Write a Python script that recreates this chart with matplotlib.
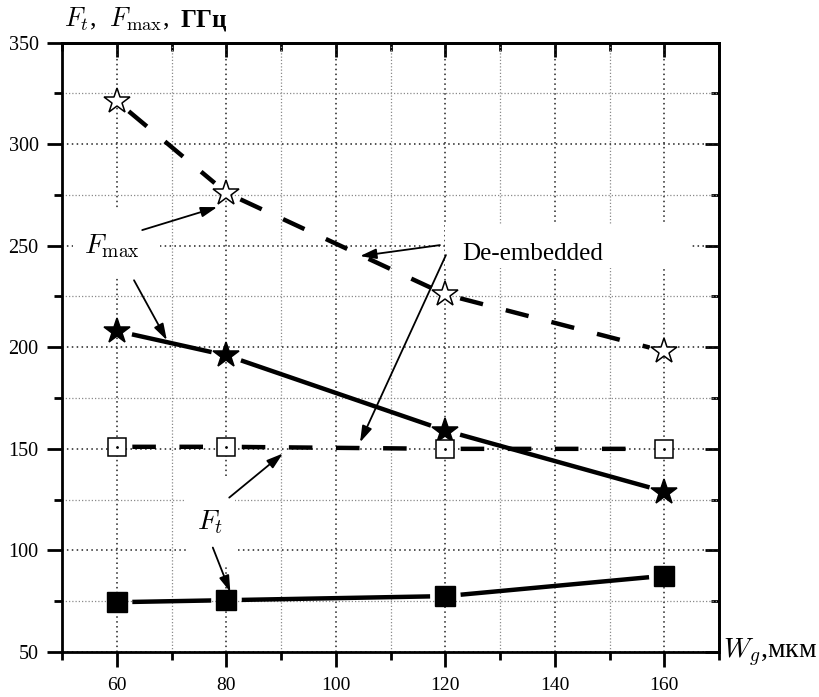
import matplotlib
matplotlib.use('Agg')
import matplotlib.pyplot as plt
from matplotlib.patches import Rectangle
from matplotlib.ticker import MultipleLocator

# ---- data ----
wg = [60, 80, 120, 160]
fmax_deemb = [321, 276, 226, 198]
fmax = [208, 196, 159, 129]
ft_deemb = [151, 151, 150, 150]
ft = [74.5, 75.5, 77.5, 87.5]

x_ticks = [60, 80, 100, 120, 140, 160]
y_ticks = [50, 100, 150, 200, 250, 300, 350]

plt.rcParams['font.family'] = ['Liberation Serif', 'DejaVu Serif']
plt.rcParams['font.weight'] = 'normal'
plt.rcParams['mathtext.fontset'] = 'cm'

fig = plt.figure(figsize=(8.19, 6.97), dpi=100)
ax = fig.add_axes([0.0761, 0.0646, 0.8018, 0.8743])
ax.set_xlim(50, 170)
ax.set_ylim(50, 350)
ax.set_axisbelow(True)

ax.set_xticks(x_ticks)
ax.set_yticks(y_ticks)
ax.xaxis.set_minor_locator(MultipleLocator(10))
ax.yaxis.set_minor_locator(MultipleLocator(25))
ax.tick_params(which='major', direction='out', length=11, width=2)
ax.tick_params(which='minor', direction='out', length=6, width=2)
ax.tick_params(axis='x', which='major', pad=7, labelsize=14)
ax.tick_params(axis='y', which='major', pad=6, labelsize=14.5)
for s in ax.spines.values():
    s.set_linewidth(2)

ax.grid(which='major', color='#222222', ls=(0, (1, 2.2)), lw=1.1)
ax.grid(which='minor', color='#8a8a8a', ls=(0, (1, 1.6)), lw=0.9)

# top/right inward ticks
secx = ax.secondary_xaxis('top')
secx.set_xticks(x_ticks)
secx.xaxis.set_minor_locator(MultipleLocator(10))
secx.tick_params(which='major', direction='in', length=10, width=2, labeltop=False)
secx.tick_params(which='minor', direction='in', length=5.5, width=2)
secx.spines['top'].set_linewidth(2)
secy = ax.secondary_yaxis('right')
secy.set_yticks(y_ticks)
secy.yaxis.set_minor_locator(MultipleLocator(25))
secy.tick_params(which='major', direction='in', length=10, width=2, labelright=False)
secy.tick_params(which='minor', direction='in', length=5.5, width=2)
secy.spines['right'].set_linewidth(2)

# white label boxes
boxes = [(52.0, 234.5, 15.9, 33.0), (72.6, 92.7, 8.9, 43.3), (120.0, 239.0, 44.8, 21.1)]
for (bx, by, bw, bh) in boxes:
    ax.add_patch(Rectangle((bx, by), bw, bh, fc='white', ec='none', zorder=1.5))

def connect(xs, ys, ls):
    for i in range(len(xs) - 1):
        ax.annotate('', xy=(xs[i + 1], ys[i + 1]), xytext=(xs[i], ys[i]),
                    arrowprops=dict(arrowstyle='-', lw=3.2, ls=ls, color='black',
                                    shrinkA=11, shrinkB=11, capstyle='butt'),
                    zorder=3)

dash = (0, (5.3, 5.3))
connect(wg, fmax_deemb, dash)
connect(wg, fmax, '-')
connect(wg, ft_deemb, dash)
connect(wg, ft, '-')

ax.plot(wg, fmax_deemb, ls='none', marker='*', ms=19, mfc='white', mec='black', mew=1.1, zorder=4)
ax.plot(wg, fmax, ls='none', marker='*', ms=19, mfc='black', mec='black', mew=1.1, zorder=4)
ax.plot(wg, ft_deemb, ls='none', marker='s', ms=13, mfc='white', mec='black', mew=1.1, zorder=4)
ax.plot(wg, ft_deemb, ls='none', marker='.', ms=2, color='black', zorder=5)
ax.plot(wg, ft, ls='none', marker='s', ms=14, mfc='black', mec='black', mew=1, zorder=4)

# annotations
arrows = [((64.6, 257.7), (78.3, 269.0)),
          ((63.1, 233.0), (69.1, 203.5)),
          ((119.0, 250.3), (104.4, 244.9)),
          ((120.1, 245.4), (104.4, 153.2)),
          ((80.5, 126.0), (90.3, 147.7)),
          ((77.5, 101.4), (80.7, 79.5))]
for start, end in arrows:
    ax.annotate('', xy=end, xytext=start,
                arrowprops=dict(arrowstyle='-|>,head_length=0.7,head_width=0.22',
                                lw=1.3, color='black', shrinkA=0, shrinkB=0,
                                mutation_scale=14),
                zorder=6)

ax.text(59.1, 246.4, r'$F_{\rm max}$', fontsize=20, ha='center', va='baseline', zorder=6)
ax.text(77.0, 110.4, r'$F_t$', fontsize=20, ha='center', va='baseline', zorder=6)
ax.text(123.1, 242.9, 'De-embedded', fontsize=18, ha='left', va='baseline', zorder=6)

ax.text(50.3, 357.7, r'$F_t$,  $F_{\rm max}$,', fontsize=19, ha='left', va='baseline',
        clip_on=False)
ax.text(71.6, 357.7, 'ГГц', fontsize=18, ha='left', va='baseline',
        clip_on=False, fontweight='bold')
ax.text(170.7, 47.0, r'$W_g$,мкм', fontsize=20, ha='left', va='baseline', clip_on=False)

fig.savefig('out.png', dpi=100, facecolor='white')
